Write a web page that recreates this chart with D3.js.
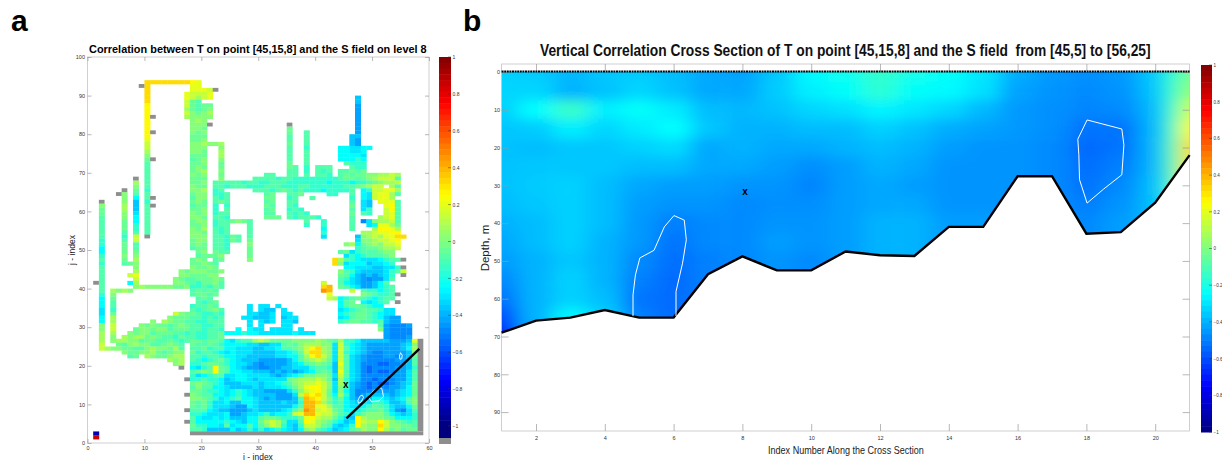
<!DOCTYPE html>
<html>
<head>
<meta charset="utf-8">
<script src="https://cdn.jsdelivr.net/npm/d3@7"></script>
<style>
  body { margin: 0; background: #fff; }
  text { font-family: "Liberation Sans", Arial, sans-serif; white-space: pre; }
</style>
</head>
<body>
<div id="chart"></div>
<script>
// colour letters used by the grid rows
const codeLetters = 'ABCDEFGHIJKLMNOPQYR'.split('');
const codeValues = [-0.55, -0.48, -0.43, -0.36, -0.30, -0.24, -0.15, -0.09, -0.04, 0.01, 0.07, 0.14, 0.20, 0.26, 0.32, 0.39, 0.46, -0.9, 0.85];

// panel a: [j, first i, letters]
const mainBlockRows = [
  [26, 18, 'IIHIIHFEGHHKLKIIIIJJJJKJIHKGGFDDDDDCCCDM'],
  [25, 18, 'IHHIHGFFFFEEDDEEHIHJKKKJJELGFEDCCCCCCDEJ'],
  [24, 18, 'HHIGHHFFEEEDDEEFHHIJLNOKJELHFEDCCCCCCDFK'],
  [23, 18, 'IGHHGFEFEEEDDDDEEFGILOOKJELGFEDCBBCCCCDJ'],
  [22, 18, 'HHGHHGFFEEDDDDDEEFFHKNOLJELHEDCBBBCCBCDI'],
  [21, 18, 'HGFGHIGFEDDDCCCCCDFHJKLKIELHEDCBBBBBCCDH'],
  [20, 18, 'GGHIIHGFEEDCBCCCCDEFHIJIHDMHEDBBBAABBCDH'],
  [19, 18, 'FEGHNIHFEDCCBBCCDDEEEGHHGDLHEDBABBBBCCDG'],
  [18, 18, 'HIJINIHFFEEDDDCDCDCDEFHIHDMHEDBABAABCCEH'],
  [17, 18, 'GEFGHHEEFFEEEEDCDEFGIIJJIELHEDBBBBBCCCEH'],
  [16, 18, 'GGHGGFDEFFEDEEEEEIJKKKLKIDKGEDBBABBBCCEH'],
  [15, 18, 'IJIHGFDDDEEEDEEFGHJKLLMLJEKGDCBABAABCDEI'],
  [14, 18, 'HJHHFFEDDDDEDEEEFGIKMNNLJEJGDCBABBBCCDFI'],
  [13, 18, 'IIHGGFEFGFEDDCCCCEGJLMNLIEJFDBBBCCCCDEFI'],
  [12, 18, 'JIHHFFEFGFEDDDDCCCELONOLIFKGDBCDDDDCDEFI'],
  [11, 18, 'JJIHGEFGHFFEDCDCCCDHPONLJGIFDCCDFFEDEFHJ'],
  [10, 18, 'IHIGEEFDDFFEDDDDEDDGPPOKIGHFEDEEGGFDDEHJ'],
  [9, 18, 'IHIGEEEDCCFEDDDDDDFHPPMMKHHFEEFGIHGEDDFI'],
  [8, 18, 'HHHFEDDCCCDEDDDDEFHJQPLMLIHFFFGHHIGECBEH'],
  [7, 18, 'GGFEEEFCCDEEFGEFFGLMPPMLLJHGEGIJJJHFEDEG'],
  [6, 18, 'HFEEFEFDDDFFHIIHGGGIMNLKKIGEDNKJJJIHFFFG'],
  [5, 18, 'HFFFFFGFEDFFIKLKHEEHNMKJIGFDENLKKNLJIHGH'],
  [4, 18, 'IGGFFEHEFFHFHJLKGEDGLLKIHEDEGNKJJOLJJIIH'],
  [3, 18, 'HHGDDDDFDEGEGEFGFEDFJKHGFDEFHIKJJNKIJHII']
];

// panel a: everything north of the main block, again [j, first i, letters]
const upperRows = [
  [93, 10, 'OOOOOOOONM'], [92, 18, 'MM'], [91, 18, 'MMML'], [90, 17, 'MLLLM'], [89, 17, 'MLKLM'],
  [88, 17, 'LIH'], [87, 17, 'LIHII'], [86, 17, 'KIHIJ'], [85, 17, 'LJIJK'], [84, 17, 'KJJJJ'],
  [77, 21, 'JJK'], [78, 46, 'D'], [77, 46, 'D'], [79, 46, 'D'],
  [76, 44, 'FFEEFF'], [75, 44, 'FFEEF'], [74, 44, 'FFFFE'], [73, 44, 'FFFGF'], [72, 45, 'HGGG'],
  [71, 46, 'HGG'], [70, 44, 'HHIHI'], [69, 44, 'HIHI'], [69, 48, 'IJJKKLK'], [69, 31, 'HH'],
  [68, 29, 'HHHHGHHGGGGGGGGHIIH'], [68, 48, 'IJKLLLH'],
  [67, 22, 'HHHHHGHHGGHHHGGGGGGGFGGGFGGHIJKKL'],
  [66, 22, 'HHGHHHGGGHHHGGGHHGGGGGGHHIJKLL'], [66, 53, 'KH'],
  [65, 22, 'GH'], [65, 29, 'HHHGHIHGHGGGFGGGGH'], [65, 48, 'FG'], [65, 50, 'LLMMK'],
  [64, 22, 'GGH'], [64, 31, 'HI'], [64, 35, 'HHI'], [64, 42, 'GG'], [64, 46, 'H'], [64, 48, 'FE'], [64, 50, 'LMMKH'],
  [63, 22, 'HGH'], [63, 31, 'II'], [63, 35, 'GH'], [63, 39, 'H'], [63, 46, 'G'], [63, 48, 'FE'], [63, 50, 'LMMK'],
  [62, 22, 'HIH'], [62, 31, 'HI'], [62, 35, 'HH'], [62, 46, 'H'], [62, 48, 'ED'], [62, 51, 'MMMH'],
  [61, 22, 'G'], [61, 24, 'G'], [61, 31, 'IH'], [61, 35, 'HG'], [61, 46, 'I'], [61, 48, 'ED'], [61, 52, 'MNH'],
  [60, 22, 'G'], [60, 24, 'H'], [60, 31, 'HI'], [60, 35, 'GHG'], [60, 46, 'H'], [60, 48, 'EG'], [60, 52, 'LNH'],
  [59, 22, 'GHH'], [59, 31, 'HH'], [59, 35, 'HGHG'], [59, 46, 'I'], [59, 48, 'HG'], [59, 52, 'LMH'],
  [58, 22, 'HHG'], [58, 31, 'III'], [58, 35, 'HGHHHG'], [58, 46, 'H'], [58, 51, 'KLMH'],
  [57, 22, 'GHHIJIH'], [57, 38, 'H'], [57, 41, 'G'], [57, 46, 'H'], [57, 48, 'BE'], [57, 50, 'JKKLH'],
  [56, 22, 'GHH'], [56, 28, 'H'], [56, 38, 'G'], [56, 41, 'G'], [56, 46, 'H'], [56, 49, 'EF'], [56, 51, 'MMKI'],
  [55, 22, 'HGH'], [55, 28, 'H'], [55, 41, 'F'], [55, 46, 'H'], [55, 50, 'KNNMK'],
  [54, 22, 'HGH'], [54, 28, 'H'], [54, 41, 'G'], [54, 48, 'KKLMMNN'],
  [53, 22, 'HHGIH'], [53, 28, 'H'], [53, 41, 'E'], [53, 47, 'D'], [53, 48, 'JKLKMMOO'],
  [52, 22, 'HHGIH'], [52, 28, 'I'], [52, 47, 'E'], [52, 48, 'JJKLLMN'],
  [51, 22, 'HHG'], [51, 28, 'J'], [51, 45, 'JK'], [51, 47, 'F'], [51, 48, 'IJKJLLM'],
  [50, 22, 'HHG'], [50, 28, 'I'], [50, 47, 'GHIIJKKL'],
  [49, 22, 'IHH'], [49, 28, 'I'], [49, 44, 'HIEGHHHIJJ'],
  [48, 21, 'IIJ'], [48, 28, 'I'], [48, 45, 'EGFGHHHIJ'],
  [47, 18, 'IJI'], [47, 22, 'HI'], [47, 28, 'J'], [47, 43, 'OK'], [47, 45, 'HGFEEEFGHH'],
  [46, 6, 'HIJ'], [46, 18, 'IIJIH'], [46, 43, 'OJ'], [46, 45, 'EFFFDEEFG'],
  [45, 18, 'JIIJI'], [45, 45, 'FFEEEDDEEG'],
  [44, 16, 'JIJJJIIJ'], [44, 44, 'JHGEDDDDEGHL'],
  [43, 7, 'L'], [43, 16, 'JJIIIJJ'], [43, 44, 'IHFDCDCDEG'],
  [42, 15, 'JIHHIIIJI'], [42, 44, 'HGEDCBCCEH'],
  [41, 7, 'F'], [41, 15, 'JJIHGIIJH'], [41, 41, 'L'], [41, 44, 'HFEDCCDFH'],
  [40, 8, 'JKJJJJJIIJGGHGIH'], [40, 41, 'OP'], [40, 44, 'IHFECCDFGH'],
  [39, 4, 'KJKJ'], [39, 18, 'HIHIH'], [39, 41, 'QP'], [39, 46, 'L'], [39, 48, 'HGGFGH'],
  [38, 18, 'HIIHI'], [38, 42, 'M'], [38, 48, 'JIHGGH'],
  [37, 19, 'HIH'], [37, 42, 'LKFGHIHGFGHH'],
  [36, 19, 'HGHI'], [36, 44, 'FHI'], [36, 48, 'FEFGH'],
  [35, 18, 'GHHIH'], [35, 28, 'E'], [35, 30, 'EE'], [35, 33, 'E'], [35, 44, 'FHIIHGFF'],
  [34, 18, 'HGHIJH'], [34, 28, 'E'], [34, 30, 'EDD'], [34, 34, 'E'], [34, 44, 'EFGHIHHGEE'],
  [33, 15, 'LJIIHGGHG'], [33, 28, 'EEDDE'], [33, 34, 'EE'], [33, 44, 'FGHIIHGFEE'],
  [32, 14, 'JIIIHHGHGH'], [32, 27, 'EEDDDE'], [32, 34, 'DEE'], [32, 44, 'EFHIIHGFDCC'],
  [31, 11, 'J'], [31, 13, 'KJIIHHGGHHH'], [31, 28, 'E'], [31, 30, 'EDE'], [31, 34, 'EED'], [31, 44, 'GHIIHHGHDCC'],
  [30, 9, 'JIJIIHIJIHHGGHH'], [30, 28, 'E'], [30, 30, 'E'], [30, 34, 'EE'], [30, 51, 'HCBBBC'],
  [29, 8, 'IJJIJJHIIIHHGHHG'], [29, 26, 'F'], [29, 28, 'FEE'], [29, 32, 'EEE'], [29, 35, 'E'], [29, 37, 'E'], [29, 51, 'JCBBBB'],
  [28, 7, 'JIJJHIIIHHGHGGHHI'], [28, 24, 'FFFGFFEEEEEEFEEE'], [28, 52, 'CBBBB'],
  [27, 6, 'KJKKIJIHHGIHHGGHHI'], [27, 52, 'CBBBC'],
  [26, 5, 'KKJJHIIHHIHGH'], [25, 5, 'IHJKJJHHIJIH'], [24, 2, 'LKJ'], [24, 5, 'JIIHHJKJJIKH'],
  [23, 6, 'JIIJJKIHIJJ'], [22, 7, 'HI'], [22, 10, 'KJIIJKK'], [21, 14, 'KJK'], [20, 15, 'JK'],
  [2, 1, 'Y'], [1, 1, 'R']
];

// panel a: narrow north-south channels, [i, top j, letters running south]
const channelCols = [
  [10, 92, 'OOOOONNNNNNNNNMLLKJIHHHHHHHGHHGHHHHHHHH'],
  [2, 61, 'JIIHHHHHHGGFFGHGHHHHHHHGFFFEEFFJJKKKL'],
  [4, 38, 'JIHHGIKKLLKJJ'],
  [6, 64, 'JJJKKJJIIIHGHIIIJI'],
  [8, 67, 'KJIHFDDDEFFGGHLLHHIJK'],
  [8, 45, 'JKMLK'],
  [18, 83, 'JJJJIIJJJIHIIIJIIJJIHIHIJJIIJJJIIH'],
  [19, 83, 'KJJIIIJJJIIIJJIIIIJJJJIIIJJIIJJJJIIH'],
  [20, 83, 'JJIJIJKJIIJJIKJIJIKJJIIJJIJJKIJJIIJI'],
  [23, 76, 'JKKJIIJIJ'],
  [35, 81, 'IIHHIHHHHIIHH'],
  [36, 71, 'HHH'],
  [38, 80, 'HHHHGHHHHGGH'],
  [40, 71, 'HHH'], [41, 71, 'HGH'], [42, 71, 'HHG'],
  [47, 89, 'DDCCCCCCCCDCC']
];

// panel a: land cells marked in grey, [i, j]
const greyCells = [
  [9, 92], [22, 91], [11, 84], [11, 80], [11, 73], [21, 82], [35, 82], [8, 68], [6, 65], [5, 64],
  [11, 63], [11, 61], [2, 62], [10, 53], [1, 41], [16, 19], [17, 16], [17, 12], [17, 8], [17, 5],
  [55, 47], [55, 45], [55, 43], [54, 38], [54, 36]
];
// grey edges of the domain, [i0, j0, i1, j1]
const greyBars = [[18, 2, 59, 3], [58, 3, 59, 27]];

// panel a overlays in index coordinates
const sectionLine = [[45.5, 6.4], [58.3, 24.4]];
const contoursA = [
  [[54.8, 22.5], [55, 23.4], [55.3, 22.7], [55.2, 21.8], [54.9, 21.7]],
  [[48.3, 12.4], [48.5, 11.8], [48, 10.5], [47.6, 10.3], [47.5, 11], [47.9, 12.2]],
  [[49.5, 12.3], [50.2, 13.5], [51.2, 14.3], [51.7, 14.2], [52, 12], [51.2, 10.9], [49.9, 10.7], [49.5, 11.6]]
];
const pointA = [45.4, 14.9];

// panel b: values along the section
const sectionIndex = [1, 2, 3, 4, 5, 6, 7, 8, 9, 10, 11, 12, 13, 14, 15, 16, 17, 18, 19, 20, 20.5, 21];
const sectionDepth = [0, 5, 10, 15, 20, 25, 30, 35, 40, 45, 50, 55, 60, 65, 70];
const sectionField = [
  [-.34, -.35, -.39, -.36, -.35, -.38, -.42, -.43, -.36, -.26, -.22, -.15, -.21, -.24, -.30, -.41, -.45, -.47, -.45, -.36, -.16, -.02],
  [-.33, -.33, -.40, -.37, -.33, -.37, -.42, -.42, -.35, -.28, -.24, -.17, -.24, -.26, -.31, -.43, -.46, -.48, -.46, -.37, -.15, .04],
  [-.34, -.25, -.14, -.28, -.24, -.29, -.38, -.39, -.37, -.33, -.31, -.27, -.30, -.33, -.39, -.45, -.47, -.49, -.48, -.39, -.14, .16],
  [-.36, -.35, -.28, -.33, -.29, -.25, -.36, -.40, -.40, -.38, -.38, -.34, -.37, -.41, -.43, -.45, -.47, -.52, -.52, -.40, -.12, .26],
  [-.37, -.38, -.36, -.36, -.34, -.32, -.42, -.40, -.42, -.42, -.40, -.38, -.40, -.44, -.46, -.46, -.48, -.54, -.52, -.40, -.10, .32],
  [-.37, -.36, -.36, -.36, -.38, -.38, -.42, -.42, -.44, -.47, -.44, -.40, -.42, -.46, -.46, -.46, -.48, -.53, -.50, -.40, -.10, .32],
  [-.37, -.35, -.34, -.38, -.42, -.44, -.44, -.46, -.46, -.49, -.44, -.42, -.44, -.46, -.46, -.46, -.48, -.52, -.48, -.38, -.12, .30],
  [-.38, -.36, -.34, -.38, -.44, -.46, -.46, -.48, -.47, -.47, -.44, -.42, -.42, -.46, -.46, -.46, -.48, -.50, -.46, -.38, -.18, .20],
  [-.40, -.38, -.34, -.38, -.45, -.50, -.48, -.48, -.46, -.46, -.44, -.40, -.40, -.44, -.44, -.46, -.46, -.48, -.44, -.38, -.18, .20],
  [-.42, -.38, -.34, -.40, -.45, -.52, -.48, -.48, -.44, -.46, -.44, -.40, -.40, -.44, -.44, -.46, -.46, -.48, -.44, -.38, -.18, .20],
  [-.44, -.40, -.36, -.40, -.48, -.53, -.50, -.48, -.46, -.48, -.44, -.40, -.40, -.44, -.44, -.46, -.46, -.48, -.44, -.38, -.18, .20],
  [-.48, -.40, -.34, -.40, -.50, -.54, -.50, -.48, -.46, -.48, -.44, -.40, -.40, -.44, -.44, -.46, -.46, -.48, -.44, -.38, -.18, .20],
  [-.52, -.40, -.34, -.38, -.52, -.54, -.50, -.48, -.46, -.48, -.44, -.40, -.40, -.44, -.44, -.46, -.46, -.48, -.44, -.38, -.18, .20],
  [-.60, -.40, -.26, -.34, -.50, -.54, -.50, -.48, -.46, -.48, -.44, -.40, -.40, -.44, -.44, -.46, -.46, -.48, -.44, -.38, -.18, .20],
  [-.72, -.42, -.34, -.34, -.50, -.54, -.50, -.48, -.46, -.48, -.44, -.40, -.40, -.44, -.44, -.46, -.46, -.48, -.44, -.38, -.18, .20]
];
const bottomIndex = [1, 2, 3, 4, 5, 6, 7, 8, 9, 10, 11, 12, 13, 14, 15, 16, 17, 18, 19, 20, 21];
const bottomDepth = [69, 65.8, 65, 63, 65, 65, 53.5, 48.8, 52.5, 52.5, 47.5, 48.5, 48.7, 41, 41, 27.6, 27.6, 42.8, 42.4, 34.6, 22];
const contoursB = [
  [[4.82, 64.6], [4.82, 59], [4.89, 53.7], [5.02, 49.2], [5.43, 47.2], [5.73, 41], [6.01, 38], [6.31, 39.2], [6.37, 44.4], [6.26, 50.6], [6.07, 58.1], [6.07, 64.6]],
  [[18.02, 12.7], [19.03, 15.1], [19.09, 19.3], [19.03, 27.2], [18.5, 31], [18.02, 34.7], [17.8, 28.5], [17.78, 21.9], [17.75, 17.8], [18.02, 12.7]]
];
const pointB = [8.08, 31.8];

// tick labels
const ticksAx = [0, 10, 20, 30, 40, 50, 60];
const ticksAy = [0, 10, 20, 30, 40, 50, 60, 70, 80, 90, 100];
const ticksBx = [2, 4, 6, 8, 10, 12, 14, 16, 18, 20];
const ticksBy = [0, 10, 20, 30, 40, 50, 60, 70, 80, 90];
const ticksBar = [1, 0.8, 0.6, 0.4, 0.2, 0, -0.2, -0.4, -0.6, -0.8, -1];

const jet = d3.scaleLinear()
  .domain([-1, -0.75, -0.25, 0.25, 0.75, 1])
  .range(['#00007f', '#0000ff', '#00ffff', '#ffff00', '#ff0000', '#7f0000']);

const svg = d3.select('#chart').append('svg')
  .attr('width', 1222)
  .attr('height', 463)
  .style('display', 'block');

const defs = svg.append('defs');
defs.append('filter').attr('id', 'softA')
  .attr('x', '-5%').attr('y', '-5%').attr('width', '110%').attr('height', '110%')
  .append('feGaussianBlur').attr('stdDeviation', 0.7);
defs.append('filter').attr('id', 'softB')
  .attr('filterUnits', 'userSpaceOnUse')
  .attr('x', 440).attr('y', 0).attr('width', 800).attr('height', 463)
  .append('feGaussianBlur').attr('stdDeviation', '10 6');

// squeeze a text horizontally to the width it has in the picture
function fitText(g, str, x, y, width, size, weight, fill) {
  const t = g.append('text')
    .attr('font-size', size)
    .attr('font-weight', weight)
    .attr('fill', fill)
    .text(str);
  const k = width / t.node().getComputedTextLength();
  t.attr('transform', `translate(${x},${y}) scale(${k},1)`);
  return t;
}

function drawFrame(g, x, y, xTicks, yTicks, tick, padX, padY) {
  const [x0, x1] = x.range();
  const [y0, y1] = y.range();
  g.append('rect')
    .attr('x', x0).attr('y', Math.min(y0, y1))
    .attr('width', x1 - x0).attr('height', Math.abs(y1 - y0))
    .attr('fill', 'none').attr('stroke', '#c4c4c4').attr('stroke-width', 0.8);
  const yBottom = Math.max(y0, y1);
  const yTop = Math.min(y0, y1);
  const axes = [
    [d3.axisBottom(x).tickValues(xTicks).tickSizeInner(-tick).tickSizeOuter(0).tickPadding(padX), `translate(0,${yBottom})`],
    [d3.axisTop(x).tickValues(xTicks).tickSize(-tick).tickFormat(''), `translate(0,${yTop})`],
    [d3.axisLeft(y).tickValues(yTicks).tickSizeInner(-tick).tickSizeOuter(0).tickPadding(padY), `translate(${x0},0)`],
    [d3.axisRight(y).tickValues(yTicks).tickSize(-tick).tickFormat(''), `translate(${x1},0)`]
  ];
  axes.forEach(([axis, tr]) => {
    const a = g.append('g').attr('transform', tr).call(axis);
    a.select('.domain').remove();
    a.selectAll('line').attr('stroke', '#999').attr('stroke-width', 0.7);
    a.selectAll('text').attr('font-size', 5.5).attr('fill', '#333');
  });
}

function drawColorbar(g, left, right, yTop, yMinusOne, lowest, labelSize) {
  const y = d3.scaleLinear().domain([-1, 1]).range([yMinusOne, yTop]);
  const step = 2 / 64;
  const bands = d3.range(1, lowest, -step);
  g.selectAll('.band').data(bands).enter().append('rect')
    .attr('x', left)
    .attr('y', d => y(d))
    .attr('width', right - left)
    .attr('height', y(0) - y(step) + 0.5)
    .attr('fill', d => jet(Math.max(-1, d - step / 2)));
  const axis = d3.axisRight(y).tickValues(ticksBar).tickSize(0).tickPadding(1.5).tickFormat(d3.format('~g'));
  const a = g.append('g').attr('transform', `translate(${right},0)`).call(axis);
  a.select('.domain').remove();
  a.selectAll('text').attr('font-size', labelSize).attr('fill', '#333');
  // short dashes inside the bar
  g.selectAll('.mark').data(ticksBar).enter().append('line')
    .attr('x1', right - 3).attr('x2', right)
    .attr('y1', d => y(d)).attr('y2', d => y(d))
    .attr('stroke', '#333').attr('stroke-width', 0.5);
  return y;
}

// ---- panel a ----
const xA = d3.scaleLinear().domain([0, 60]).range([87.5, 429]);
const yA = d3.scaleLinear().domain([0, 100]).range([443, 57]);
const panelA = svg.append('g');

const codeValue = new Map(codeLetters.map((c, k) => [c, codeValues[k]]));
const cells = [];
mainBlockRows.concat(upperRows).forEach(([j, i0, codes]) => {
  codes.split('').forEach((c, k) => cells.push({ i: i0 + k, j: j, v: codeValue.get(c) }));
});
channelCols.forEach(([i, j0, codes]) => {
  codes.split('').forEach((c, k) => cells.push({ i: i, j: j0 - k, v: codeValue.get(c) }));
});

const fieldA = panelA.append('g').attr('filter', 'url(#softA)');
fieldA.selectAll('.cell').data(cells).enter().append('rect')
  .attr('x', d => xA(d.i))
  .attr('y', d => yA(d.j + 1))
  .attr('width', xA(1) - xA(0) + 0.3)
  .attr('height', yA(0) - yA(1) + 0.3)
  .attr('fill', d => jet(d.v));
fieldA.selectAll('.grey').data(greyCells).enter().append('rect')
  .attr('x', d => xA(d[0]))
  .attr('y', d => yA(d[1] + 1))
  .attr('width', xA(1) - xA(0))
  .attr('height', yA(0) - yA(1))
  .attr('fill', '#8e8e8e');
fieldA.selectAll('.greyBar').data(greyBars).enter().append('rect')
  .attr('x', d => xA(d[0]))
  .attr('y', d => yA(d[3]))
  .attr('width', d => xA(d[2]) - xA(d[0]))
  .attr('height', d => yA(d[1]) - yA(d[3]))
  .attr('fill', '#8e8e8e');

drawFrame(panelA, xA, yA, ticksAx, ticksAy, 4, 3.5, 2.5);

const lineA = d3.line().x(d => xA(d[0])).y(d => yA(d[1]));
panelA.selectAll('.contour').data(contoursA).enter().append('path')
  .attr('d', d => lineA(d) + 'Z')
  .attr('fill', 'none').attr('stroke', '#fff').attr('stroke-width', 0.9);
panelA.append('path')
  .attr('d', lineA(sectionLine))
  .attr('stroke', '#000').attr('stroke-width', 2.4).attr('fill', 'none');
panelA.append('text')
  .attr('x', xA(pointA[0])).attr('y', yA(pointA[1]) + 3)
  .attr('text-anchor', 'middle').attr('font-size', 10).attr('font-weight', 'bold')
  .text('x');

fitText(panelA, 'Correlation between T on point [45,15,8] and the S field on level 8', 89, 53, 338, 11.5, 'bold', '#000');
panelA.append('text')
  .attr('x', 258).attr('y', 460)
  .attr('text-anchor', 'middle').attr('font-size', 8.5).attr('fill', '#222')
  .text('i - index');
panelA.append('text')
  .attr('transform', 'translate(75,250) rotate(-90)')
  .attr('text-anchor', 'middle').attr('font-size', 8.5).attr('fill', '#222')
  .text('j - index');

const barA = panelA.append('g');
drawColorbar(barA, 439, 451, 57, 426, -1.065, 5);
barA.append('rect')
  .attr('x', 439).attr('y', 438)
  .attr('width', 12).attr('height', 6)
  .attr('fill', '#8e8e8e');

// ---- panel b ----
const xB = d3.scaleLinear().domain([1, 21]).range([501.6, 1189.6]);
const yB = d3.scaleLinear().domain([-2.1, 95]).range([64, 431]);
const panelB = svg.append('g');

const bottom = bottomIndex.map((d, k) => [d, bottomDepth[k]]);
const bottomArea = d3.area().x(d => xB(d[0])).y0(yB(0)).y1(d => yB(d[1]));
const bottomLine = d3.line().x(d => xB(d[0])).y(d => yB(d[1]));

defs.append('clipPath').attr('id', 'waterClip')
  .append('path').attr('d', bottomArea(bottom));

// cell edges halfway between the read columns and levels; outer edges run past the clip
const edgesX = sectionIndex.map((d, k) => k === 0 ? -2 : (sectionIndex[k - 1] + d) / 2).concat([24]);
const edgesY = sectionDepth.map((d, k) => k === 0 ? -20 : (sectionDepth[k - 1] + d) / 2).concat([90]);
const sectionCells = [];
sectionField.forEach((row, r) => row.forEach((v, c) => sectionCells.push({ r: r, c: c, v: v })));

const fieldB = panelB.append('g').attr('clip-path', 'url(#waterClip)')
  .append('g').attr('filter', 'url(#softB)');
fieldB.selectAll('.cell').data(sectionCells).enter().append('rect')
  .attr('x', d => xB(edgesX[d.c]))
  .attr('y', d => yB(edgesY[d.r]))
  .attr('width', d => xB(edgesX[d.c + 1]) - xB(edgesX[d.c]) + 0.5)
  .attr('height', d => yB(edgesY[d.r + 1]) - yB(edgesY[d.r]) + 0.5)
  .attr('fill', d => jet(d.v));

drawFrame(panelB, xB, yB, ticksBx, ticksBy, 7, 5.5, 1.5);

panelB.append('path')
  .attr('d', bottomLine(bottom))
  .attr('fill', 'none').attr('stroke', '#000').attr('stroke-width', 2.4);
panelB.append('line')
  .attr('x1', xB(1)).attr('x2', xB(21)).attr('y1', yB(0) - 0.5).attr('y2', yB(0) - 0.5)
  .attr('stroke', '#000').attr('stroke-width', 2).attr('stroke-dasharray', '2 0.6');

const lineB = d3.line().x(d => xB(d[0])).y(d => yB(d[1]));
panelB.selectAll('.contour').data(contoursB).enter().append('path')
  .attr('d', lineB)
  .attr('fill', 'none').attr('stroke', '#fff').attr('stroke-width', 1);
panelB.append('text')
  .attr('x', xB(pointB[0])).attr('y', yB(pointB[1]) + 3)
  .attr('text-anchor', 'middle').attr('font-size', 10).attr('font-weight', 'bold')
  .text('x');

fitText(panelB, 'Vertical Correlation Cross Section of T on point [45,15,8] and the S field  from [45,5] to [56,25]', 540, 56, 611, 16, 'bold', '#111');
fitText(panelB, 'Index Number Along the Cross Section', 768, 454, 156, 11, 'normal', '#222');
panelB.append('text')
  .attr('transform', 'translate(489,248) rotate(-90)')
  .attr('text-anchor', 'middle').attr('font-size', 11.5).attr('fill', '#222')
  .text('Depth, m');

drawColorbar(panelB.append('g'), 1201, 1212, 65, 432, -1, 4.5);

// panel letters
svg.append('text').attr('x', 11).attr('y', 31)
  .attr('font-size', 30).attr('font-weight', 'bold').text('a');
svg.append('text').attr('x', 463).attr('y', 31)
  .attr('font-size', 30).attr('font-weight', 'bold').text('b');
</script>
</body>
</html>
